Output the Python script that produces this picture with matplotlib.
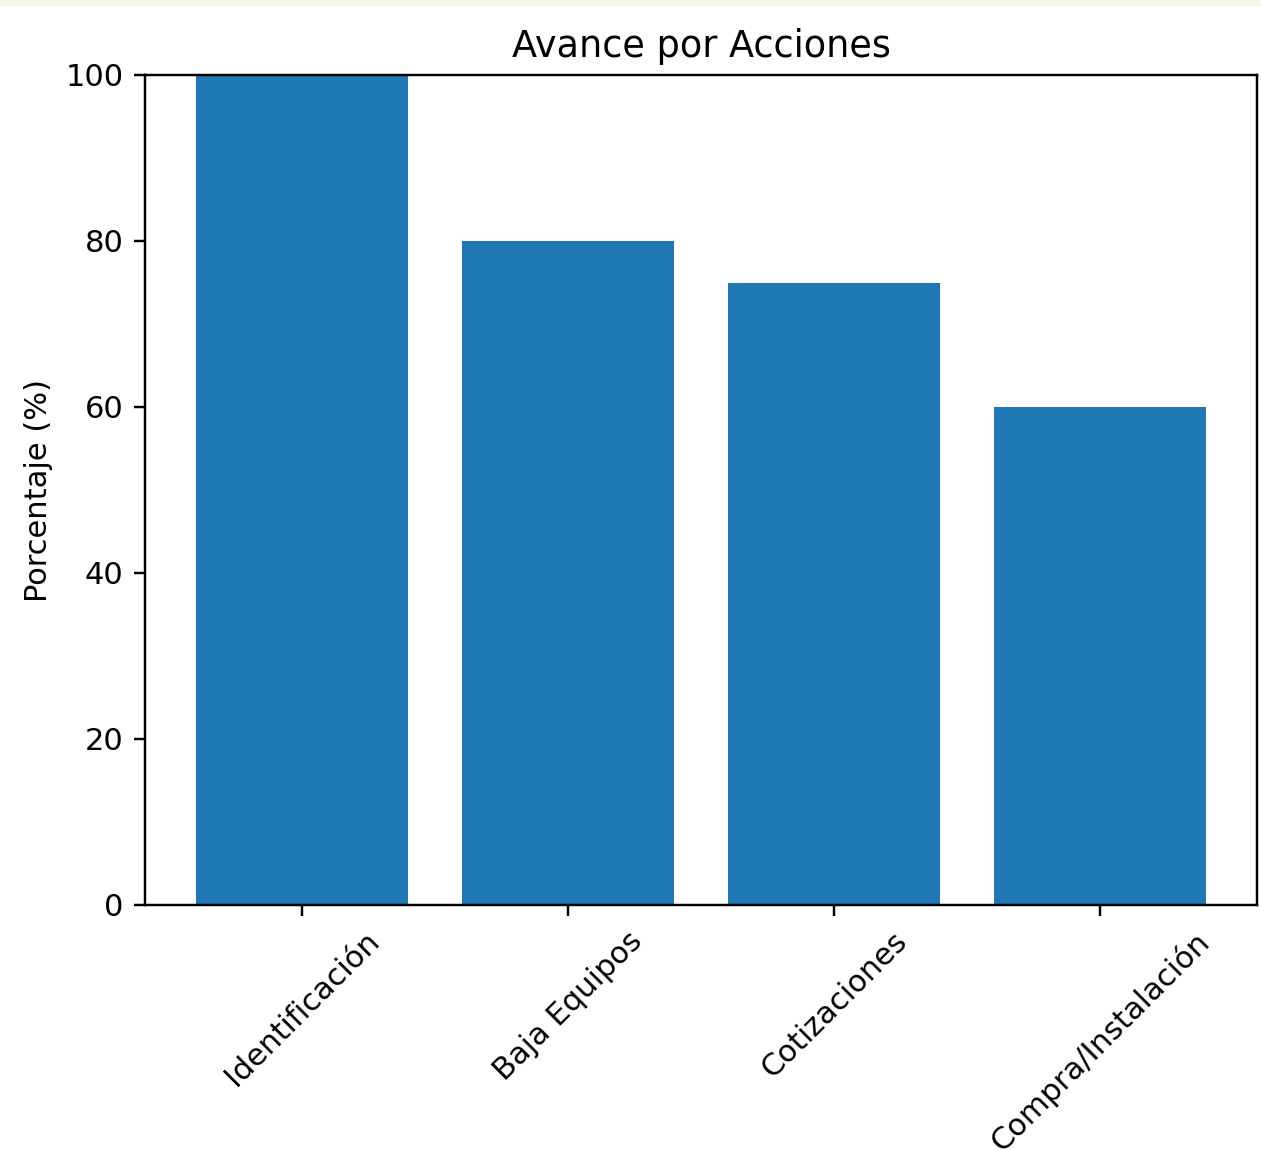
import matplotlib
matplotlib.use("Agg")
import matplotlib.pyplot as plt
from matplotlib.patches import Rectangle

acciones = ["Identificación", "Baja Equipos", "Cotizaciones", "Compra/Instalación"]
porcentajes = [100, 80, 75, 60]

dpi = 220
fig = plt.figure(figsize=(1261 / dpi, 1150 / dpi), dpi=dpi)
ax = fig.add_axes([145 / 1261, (1150 - 905) / 1150, 1112 / 1261, 830 / 1150])

ax.bar(acciones, porcentajes, color="#1f77b4")
ax.set_ylim(0, 100)
ax.set_title("Avance por Acciones")
ax.set_ylabel("Porcentaje (%)")
plt.setp(ax.get_xticklabels(), rotation=45)

# thin beige strip along the top edge
fig.patches.append(Rectangle((0, 1 - 4 / 1150), 1, 4 / 1150, transform=fig.transFigure,
                             color="#f7f4ec", zorder=-1))

fig.savefig("out.png", dpi=dpi)
